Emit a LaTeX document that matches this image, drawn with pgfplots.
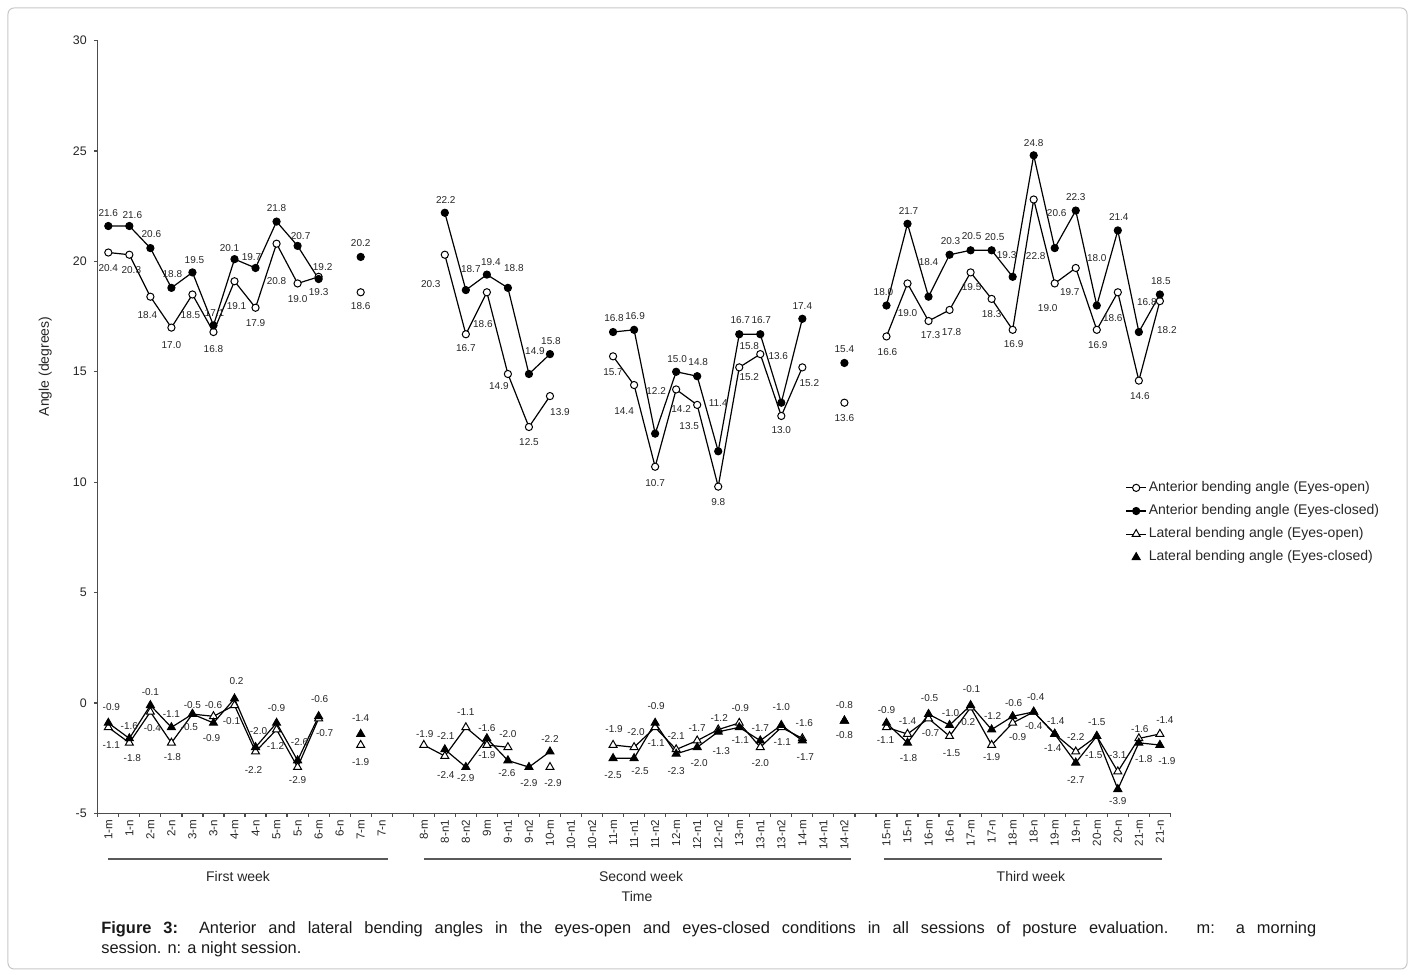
\documentclass[border=0pt]{standalone}
\usepackage{fontspec}
\setmainfont{Liberation Sans}
\usepackage{pgfplots}
\usepackage{pgfplotstable}
\pgfplotsset{compat=1.18}
\newcommand{\lblfont}{\fontsize{5}{6}\selectfont}
\def\mylbl#1{\expandafter\mylblA#1\relax}
\def\mylblA#1/#2/#3\relax{\smash{\makebox[0pt][c]{\kern #2pt\raisebox{\dimexpr -#3pt/2 - 1.8pt\relax}{#1}}}}

\pgfplotstableread{
x y m
0 20.4 20.4/0/15
1 20.3 20.3/2/15
2 18.4 18.4/-3/18
3 17.0 17.0/0/17
4 18.5 18.5/-2/20
5 16.8 16.8/0/17
6 19.1 19.1/2/25
7 17.9 17.9/0/15
8 20.8 20.8/0/37
9 19.0 19.0/0/15
10 19.3 19.3/0/15
11 nan x/0/0
12 18.6 18.6/0/14
13 nan x/0/0
14 nan x/0/0
15 nan x/0/0
16 20.3 20.3/-14/29
17 16.7 16.7/0/14
18 18.6 18.6/-4/32
19 14.9 14.9/-9/12
20 12.5 12.5/0/15
21 13.9 13.9/10/16
22 nan x/0/0
23 nan x/0/0
24 15.7 15.7/0/16
25 14.4 14.4/-10/26
26 10.7 10.7/0/16
27 14.2 14.2/5/19
28 13.5 13.5/-8/21
29 9.8 9.8/0/15
30 15.2 15.2/10/10
31 15.8 15.8/-11/-8
32 13.0 13.0/0/14
33 15.2 15.2/7/16
34 nan x/0/0
35 13.6 13.6/0/15
36 nan x/0/0
37 16.6 16.6/1/15
38 19.0 19.0/0/29
39 17.3 17.3/2/14
40 17.8 17.8/2/22
41 19.5 19.5/1/15
42 18.3 18.3/0/15
43 16.9 16.9/1/14
44 22.8 22.8/2/56
45 19.0 19.0/-7/24
46 19.7 19.7/-6/24
47 16.9 16.9/1/15
48 18.6 18.6/-5/26
49 14.6 14.6/1/15
50 18.2 18.2/7/29
}\AO

\pgfplotstableread{
x y m
0 21.6 21.6/0/-13
1 21.6 21.6/3/-11
2 20.6 20.6/1/-14
3 18.8 18.8/1/-14
4 19.5 19.5/2/-12
5 17.1 17.1/1/-13
6 20.1 20.1/-5/-11
7 19.7 19.7/-4/-11
8 21.8 21.8/0/-14
9 20.7 20.7/3/-10
10 19.2 19.2/4/-12
11 nan x/0/0
12 20.2 20.2/0/-14
13 nan x/0/0
14 nan x/0/0
15 nan x/0/0
16 22.2 22.2/1/-13
17 18.7 18.7/5/-21
18 19.4 19.4/4/-13
19 18.8 18.8/6/-20
20 14.9 14.9/6/-23
21 15.8 15.8/1/-13
22 nan x/0/0
23 nan x/0/0
24 16.8 16.8/1/-14
25 16.9 16.9/1/-14
26 12.2 12.2/1/-43
27 15.0 15.0/1/-13
28 14.8 14.8/1/-14
29 11.4 11.4/0/-48
30 16.7 16.7/1/-14
31 16.7 16.7/1/-14
32 13.6 13.6/-3/-47
33 17.4 17.4/0/-13
34 nan x/0/0
35 15.4 15.4/0/-14
36 nan x/0/0
37 18.0 18.0/-3/-14
38 21.7 21.7/1/-13
39 18.4 18.4/0/-35
40 20.3 20.3/1/-14
41 20.5 20.5/1/-14
42 20.5 20.5/3/-13
43 19.3 19.3/-6/-22
44 24.8 24.8/0/-12
45 20.6 20.6/2/-35
46 22.3 22.3/0/-14
47 18.0 18.0/0/-48
48 21.4 21.4/1/-14
49 16.8 16.8/8/-30
50 18.5 18.5/1/-14
}\AC

\pgfplotstableread{
x y m
0 -1.1 -1.1/3/18
1 -1.8 -1.8/3/15
2 -0.4 -0.4/2/16
3 -1.8 -1.8/1/14
4 -0.5 -0.5/-3/13
5 -0.6 -0.6/0/-11
6 -0.1 -0.1/-3/16
7 -2.2 -2.2/-2/18
8 -1.2 -1.2/-1/16
9 -2.9 -2.9/0/13
10 -0.7 -0.7/6/14
11 nan x/0/0
12 -1.9 -1.9/0/17
13 nan x/0/0
14 nan x/0/0
15 -1.9 -1.9/1/-11
16 -2.4 -2.4/1/19
17 -1.1 -1.1/0/-15
18 -1.9 -1.9/0/10
19 -2.0 -2.0/0/-13
20 nan x/0/0
21 -2.9 -2.9/3/16
22 nan x/0/0
23 nan x/0/0
24 -1.9 -1.9/1/-16
25 -2.0 -2.0/2/-15
26 -1.1 -1.1/1/16
27 -2.1 -2.1/0/-14
28 -1.7 -1.7/0/-13
29 -1.2 -1.2/1/-12
30 -0.9 -0.9/1/-15
31 -2.0 -2.0/0/16
32 -1.1 -1.1/1/15
33 -1.6 -1.6/2/-16
34 nan x/0/0
35 -0.8 -0.8/0/-16
36 nan x/0/0
37 -1.1 -1.1/-1/13
38 -1.4 -1.4/0/-13
39 -0.7 -0.7/2/14
40 -1.5 -1.5/2/17
41 -0.2 -0.2/-4/14
42 -1.9 -1.9/0/12
43 -0.9 -0.9/5/14
44 -0.4 -0.4/0/14
45 -1.4 -1.4/-2/14
46 -2.2 -2.2/0/-15
47 -1.5 -1.5/-3/19
48 -3.1 -3.1/0/-17
49 -1.6 -1.6/1/-10
50 -1.4 -1.4/5/-14
}\LO

\pgfplotstableread{
x y m
0 -0.9 -0.9/3/-16
1 -1.6 -1.6/0/-13
2 -0.1 -0.1/0/-13
3 -1.1 -1.1/0/-13
4 -0.5 -0.5/0/-9
5 -0.9 -0.9/-2/15
6 0.2 0.2/2/-18
7 -2.0 -2.0/3/-16
8 -0.9 -0.9/0/-15
9 -2.6 -2.6/2/-19
10 -0.6 -0.6/1/-17
11 nan x/0/0
12 -1.4 -1.4/0/-16
13 nan x/0/0
14 nan x/0/0
15 nan x/0/0
16 -2.1 -2.1/1/-14
17 -2.9 -2.9/0/11
18 -1.6 -1.6/0/-11
19 -2.6 -2.6/-1/12
20 -2.9 -2.9/0/16
21 -2.2 -2.2/0/-13
22 nan x/0/0
23 nan x/0/0
24 -2.5 -2.5/0/17
25 -2.5 -2.5/6/13
26 -0.9 -0.9/1/-17
27 -2.3 -2.3/0/17
28 -2.0 -2.0/2/16
29 -1.3 -1.3/3/19
30 -1.1 -1.1/1/13
31 -1.7 -1.7/0/-13
32 -1.0 -1.0/0/-18
33 -1.7 -1.7/3/16
34 nan x/0/0
35 -0.8 -0.8/0/14
36 nan x/0/0
37 -0.9 -0.9/0/-13
38 -1.8 -1.8/1/15
39 -0.5 -0.5/1/-16
40 -1.0 -1.0/1/-12
41 -0.1 -0.1/1/-16
42 -1.2 -1.2/1/-14
43 -0.6 -0.6/1/-13
44 -0.4 -0.4/2/-15
45 -1.4 -1.4/1/-13
46 -2.7 -2.7/0/17
47 -1.5 -1.5/0/-14
48 -3.9 -3.9/0/12
49 -1.8 -1.8/5/16
50 -1.9 -1.9/7/16
}\LC

\pgfplotsset{
  lbls/.style={
    nodes near coords={\mylbl{\pgfplotspointmeta}}, point meta=explicit symbolic,
    every node near coord/.append style={anchor=center, inner sep=0pt, outer sep=0pt, font=\lblfont, text=black!85}
  }
}

\begin{document}
\begin{tikzpicture}
\path[use as bounding box] (-48.9pt,-80.25pt) rectangle (658.1pt,406.75pt);
\draw[black!22, line width=0.5pt, rounded corners=3pt] (-44.9pt,-77.75pt) rectangle (654.6pt,402.75pt);
\begin{axis}[
  at={(0,0)}, anchor=south west,
  scale only axis, width=536.3pt, height=386.5pt,
  xmin=-0.5, xmax=50.5, ymin=-5, ymax=30,
  axis x line=bottom, axis y line=left,
  axis line style={-, black!70, line width=0.7pt},
  ytick={-5,0,...,30},
  xtick={0,...,50},
  xticklabels={1-m,1-n,2-m,2-n,3-m,3-n,4-m,4-n,5-m,5-n,6-m,6-n,7-m,7-n,{},8-m,8-n1,8-n2,9m,9-n1,9-n2,10-m,10-n1,10-n2,11-m,11-n1,11-n2,12-m,12-n1,12-n2,13-m,13-n1,13-n2,14-m,14-n1,14-n2,{},15-m,15-n,16-m,16-n,17-m,17-n,18-m,18-n,19-m,19-n,20-m,20-n,21-m,21-n},
  xtick style={draw=none},
  ytick style={black!70, line width=0.6pt},
  tick align=outside, major tick length=2pt,
  yticklabel style={font=\fontsize{6.2}{7}\selectfont, text=black!85},
  xticklabel style={font=\fontsize{5.8}{7}\selectfont, rotate=90, anchor=east, text=black!85, inner sep=1pt},
  /pgf/number format/assume math mode=true,
  clip=false,
  unbounded coords=jump,
  legend cell align=left,
  legend style={at={(axis cs:48.35,10.15)}, anchor=north west, draw=none, fill=none,
    font=\fontsize{7}{8.4}\selectfont, text=black!85, inner sep=0pt, row sep=3pt, nodes={inner sep=1pt}},
  legend image code/.code={\draw[mark repeat=2,mark phase=2,#1] plot coordinates {(0pt,0pt) (5pt,0pt) (10pt,0pt)};},
]
\addplot[forget plot, black, line width=0.6pt, mark=*, mark size=1.8pt, mark options={fill=white, draw=black, line width=0.5pt, solid}, lbls]
  table[x=x, y=y, meta=m] {\AO};
\addplot[forget plot, black, line width=0.6pt, mark=*, mark size=1.8pt, mark options={fill=black, draw=black, line width=0.5pt, solid}, lbls]
  table[x=x, y=y, meta=m] {\AC};
\addplot[forget plot, black, line width=0.6pt, mark=triangle*, mark size=2.3pt, mark options={fill=white, draw=black, line width=0.5pt, solid}, lbls]
  table[x=x, y=y, meta=m] {\LO};
\addplot[forget plot, black, line width=0.6pt, mark=triangle*, mark size=2.3pt, mark options={fill=black, draw=black, line width=0.5pt, solid}, lbls]
  table[x=x, y=y, meta=m] {\LC};

\addlegendimage{black, line width=0.6pt, mark=*, mark size=1.8pt, mark options={fill=white, draw=black, line width=0.5pt, solid}}
\addlegendentry{Anterior bending angle (Eyes-open)}
\addlegendimage{black, line width=0.6pt, mark=*, mark size=1.8pt, mark options={fill=black, draw=black, line width=0.5pt, solid}}
\addlegendentry{Anterior bending angle (Eyes-closed)}
\addlegendimage{black, line width=0.6pt, mark=triangle*, mark size=2.3pt, mark options={fill=white, draw=black, line width=0.5pt, solid}}
\addlegendentry{Lateral bending angle (Eyes-open)}
\addlegendimage{only marks, black, mark=triangle*, mark size=2.3pt, mark options={fill=black, draw=black, line width=0.5pt, solid}}
\addlegendentry{Lateral bending angle (Eyes-closed)}

\pgfplotsinvokeforeach{-0.5,0.5,...,50.5}{\draw[black!70, line width=0.6pt] (axis cs:#1,-5) -- ++(0pt,-2pt);}

\draw[black!65, line width=1pt] (axis cs:0,-7.05) -- (axis cs:13.3,-7.05);
\draw[black!65, line width=1pt] (axis cs:15,-7.05) -- (axis cs:35.3,-7.05);
\draw[black!65, line width=1pt] (axis cs:36.9,-7.05) -- (axis cs:50.1,-7.05);
\node[font=\fontsize{7}{8}\selectfont, text=black!85] at (axis cs:6.17,-7.85) {First week};
\node[font=\fontsize{7}{8}\selectfont, text=black!85] at (axis cs:25.33,-7.85) {Second week};
\node[font=\fontsize{7}{8}\selectfont, text=black!85] at (axis cs:43.87,-7.85) {Third week};
\node[font=\fontsize{7}{8}\selectfont, text=black!85] at (axis cs:25.14,-8.76) {Time};
\node[rotate=90, font=\fontsize{7}{8}\selectfont, text=black!85] at (axis cs:-3.0,15.24) {Angle (degrees)};
\end{axis}
\node[anchor=base west, text width=607.5pt, align=justify, inner sep=0pt, font=\fontsize{8.2}{10}\selectfont, text=black!90] at (1.6pt,-60.25pt)
  {\hyphenpenalty=10000\exhyphenpenalty=10000\textbf{Figure 3:} Anterior and lateral bending angles in the eyes-open and eyes-closed conditions in all sessions of posture evaluation. m: a morning\linebreak session. n: a night session.};
\end{tikzpicture}
\end{document}
